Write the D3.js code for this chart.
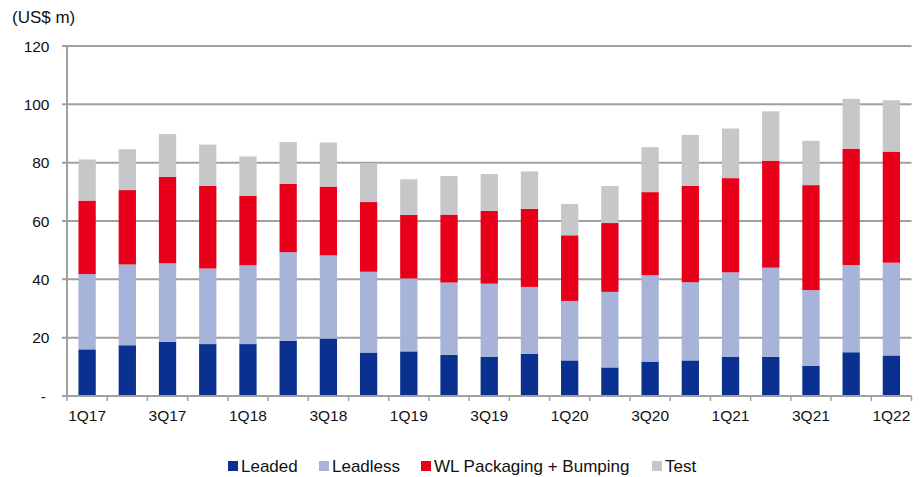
<!DOCTYPE html>
<html><head><meta charset="utf-8">
<script src="https://cdn.jsdelivr.net/npm/d3@7/dist/d3.min.js"></script>
<style>body{margin:0;background:#fff;} text{font-family:"Liberation Sans",Arial,sans-serif;fill:#111;}</style>
</head><body><svg id="c" width="924" height="477"></svg>
<script>
const quarters = ["1Q17","2Q17","3Q17","4Q17","1Q18","2Q18","3Q18","4Q18","1Q19","2Q19","3Q19","4Q19","1Q20","2Q20","3Q20","4Q20","1Q21","2Q21","3Q21","4Q21","1Q22"];
const leaded   = [16.0,17.4,18.6,17.8,17.8,18.9,19.7,14.9,15.3,14.1,13.5,14.4,12.2,9.8,11.8,12.2,13.5,13.4,10.3,15.0,13.9];
const leadless = [25.8,27.7,26.9,25.9,27.0,30.4,28.5,27.7,25.0,24.8,25.0,23.0,20.4,25.9,29.6,26.8,28.9,30.6,26.0,29.9,31.8];
const wlPackaging = [25.2,25.5,29.6,28.3,23.8,23.5,23.6,23.9,21.8,23.3,25.0,26.8,22.5,23.6,28.5,33.0,32.3,36.7,36.0,39.9,38.1];
const test     = [14.1,14.0,14.7,14.2,13.5,14.3,15.1,13.3,12.2,13.2,12.6,12.8,10.7,12.7,15.4,17.5,17.0,16.9,15.2,17.1,17.6];
const seriesNames = ["Leaded","Leadless","WL Packaging + Bumping","Test"];
const colors = ["#0a318f","#a7b3d9","#e8001a","#c6c7c9"];
const yTicks = [0,20,40,60,80,100,120];
const yTitle = "(US$ m)";

const svg = d3.select("#c");
const L = 67, R = 911.5, T = 46, B = 396;
const x = d3.scaleBand().domain(quarters).range([L, R]).paddingInner(0.57).paddingOuter(0.285);
const xb = d3.scaleBand().domain(quarters).range([L, R]);
const y = d3.scaleLinear().domain([0,120]).range([B, T]);

// gridlines
svg.append("g").selectAll("line").data(yTicks.filter(d=>d>0)).join("line")
  .attr("x1", L-5).attr("x2", R).attr("y1", d=>y(d)).attr("y2", d=>y(d))
  .attr("stroke","#a0a0a0").attr("stroke-width",2);

const rows = quarters.map((q,i)=>({q, Leaded:leaded[i], Leadless:leadless[i], "WL Packaging + Bumping":wlPackaging[i], Test:test[i]}));
const stack = d3.stack().keys(seriesNames)(rows);
svg.append("g").selectAll("g").data(stack).join("g").attr("fill",(d,i)=>colors[i])
  .selectAll("rect").data(d=>d).join("rect")
  .attr("x", d=>x(d.data.q)).attr("width", x.bandwidth())
  .attr("y", d=>y(d[1])).attr("height", d=>y(d[0])-y(d[1]));

// axes lines
svg.append("line").attr("x1",L).attr("x2",L).attr("y1",T).attr("y2",B).attr("stroke","#a0a0a0").attr("stroke-width",2);
svg.append("line").attr("x1",L-5).attr("x2",R).attr("y1",B).attr("y2",B).attr("stroke","#a0a0a0").attr("stroke-width",2);
// x ticks at band boundaries
const bounds = quarters.map(q=>xb(q)).concat([R]);
svg.append("g").selectAll("line").data(bounds).join("line")
  .attr("x1",d=>d).attr("x2",d=>d).attr("y1",B).attr("y2",B+5).attr("stroke","#a0a0a0").attr("stroke-width",1.5);

// y labels
svg.append("g").selectAll("text").data(yTicks).join("text")
  .attr("x", d=> d===0 ? 46 : 49.5).attr("y", d=>y(d)+5.5).attr("text-anchor","end")
  .style("font-size","15.5px").text(d=> d===0 ? "-" : d);
// x labels
svg.append("g").selectAll("text").data(quarters.filter((q,i)=>i%2===0)).join("text")
  .attr("x", q=>x(q)+x.bandwidth()/2).attr("y", 420.5).attr("text-anchor","middle")
  .style("font-size","15.5px").text(q=>q);
// title
svg.append("text").attr("x",12).attr("y",23).style("font-size","17px").text(yTitle);

// legend
const legX = [228, 319, 421, 652];
const lg = svg.append("g").selectAll("g").data(seriesNames).join("g")
  .attr("transform",(d,i)=>`translate(${legX[i]},461)`);
lg.append("rect").attr("width",10).attr("height",10).attr("fill",(d,i)=>colors[i]);
lg.append("text").attr("x",13).attr("y",11).style("font-size","17px").text(d=>d);
</script></body></html>
